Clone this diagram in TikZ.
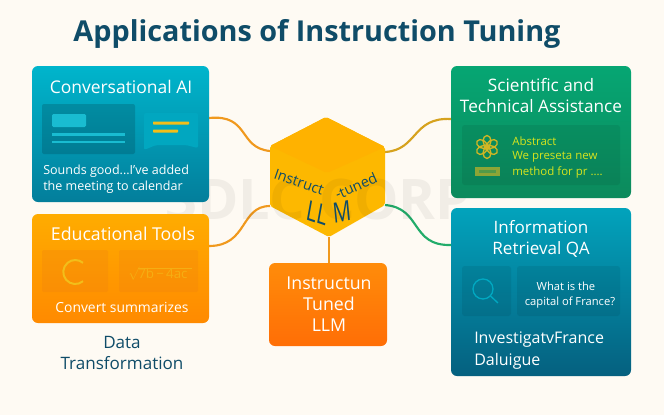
\documentclass[tikz,border=0pt]{standalone}
\usepackage{fontspec}
\setmainfont{Open Sans}
\definecolor{bg}{HTML}{FEFAF3}
\definecolor{navy}{HTML}{0F4C68}
\definecolor{cubeA}{HTML}{FFBB00}
\definecolor{cubeB}{HTML}{FDB800}
\definecolor{wire}{HTML}{F0991E}
\definecolor{wireY}{HTML}{D6A21E}
\definecolor{wireG}{HTML}{22AC6A}
\definecolor{ylw}{HTML}{F2BE1A}
\definecolor{convT}{HTML}{00B5CC}\definecolor{convB}{HTML}{037E9B}
\definecolor{eduT}{HTML}{FFAC00}\definecolor{eduB}{HTML}{FF8A00}
\definecolor{tunT}{HTML}{FF8C0A}\definecolor{tunB}{HTML}{FF6E06}
\definecolor{sciT}{HTML}{06A673}\definecolor{sciB}{HTML}{0C8A5C}
\definecolor{infT}{HTML}{02A3BC}\definecolor{infB}{HTML}{05607F}
\definecolor{lime}{HTML}{D6E41E}
\tikzset{
  x=0.75pt,y=-0.75pt,
  card/.style={rounded corners=4.5pt,inner sep=0,outer sep=0},
  wirel/.style={line width=1.6pt},
  ttl/.style={text=white,font=\fontsize{13.1}{15}\selectfont,inner sep=0,align=center},
  sm/.style={text=white,font=\fontsize{9.4}{12}\selectfont,inner sep=0,anchor=west},
  cubet/.style={text=navy,inner sep=0,font=\fontsize{10.8}{14}\selectfont}
}
\newcommand{\mkcard}[7]{%
  \node[card,top color=#6,bottom color=#7,shading angle=0,
    minimum width={(#4-#2)*0.75pt},minimum height={(#5-#3)*0.75pt},
    rounded corners=4.5pt] (#1) at ({(#2+#4)/2},{(#3+#5)/2}) {};
}
\begin{document}
\begin{tikzpicture}
\useasboundingbox[fill=bg] (0,0) rectangle (664,415);
% title
\node[text=navy,font=\fontsize{21.6}{27}\selectfont\bfseries,inner sep=0] (title) at (317,34) {Applications of Instruction Tuning};

% connectors
\coordinate (cL1) at (270,151);
\coordinate (cL2) at (270,206);
\coordinate (cR1) at (385,152);
\coordinate (cR2) at (385,205);
\coordinate (cB) at (329,237);
\coordinate (cE1) at (209,118);
\coordinate (cE2) at (209,246);
\coordinate (cE3) at (451,119);
\coordinate (cE4) at (451,245);
\draw[wirel,draw=wire] (cE1) .. controls (250,114) and (238,148) .. (cL1);
\draw[wirel,draw=wire] (cE2) .. controls (248,246) and (240,206) .. (cL2);
\draw[wirel,draw=wireY] (cR1) .. controls (418,150) and (412,117) .. (cE3);
\draw[wirel,draw=wireG] (cR2) .. controls (422,208) and (410,246) .. (cE4);

% cube
\fill[cubeB,rounded corners=1.5pt] (326,117) -- (385,147) -- (385,205) -- (329,237) -- (270,206) -- (270,146) -- cycle;
\fill[cubeA!85!orange,rounded corners=1.5pt] (326,117) -- (385,147) -- (327,173) -- (270,146) -- cycle;

% watermark
\node[text=black,opacity=.05,font=\fontsize{42}{44}\selectfont\bfseries,inner sep=0] (wm) at (318,199) {3DLC CORP};

\node[cubet,rotate=-19] (c1) at (299,182) {Instruct};
\node[cubet,rotate=24] (c2) at (356,186) {-tuned};
\node[cubet,font=\fontsize{21}{22}\selectfont,xscale=.72,rotate=-14] (c3) at (317,213) {LL};
\node[cubet,font=\fontsize{21}{22}\selectfont,xscale=.72,rotate=8] (c4) at (342,212) {M};

% cards
\mkcard{conv}{32}{66}{209}{202}{convT}{convB}
\mkcard{edu}{32}{214}{209}{323}{eduT}{eduB}
\mkcard{tun}{269}{263}{387}{346}{tunT}{tunB}
\mkcard{sci}{451}{66}{631}{198}{sciT}{sciB}
\mkcard{inf}{451}{208}{631}{376}{infT}{infB}
\draw[wirel,draw=wire] (cB) -- (329,263);

% conversational
\node[ttl] (t1) at (121,87) {Conversational AI};
\fill[black!60!convB,opacity=.22,rounded corners=1.5pt] (42,104) rectangle (135,154);
\fill[convT!90!white,rounded corners=1pt] (52,114) rectangle (86,127);
\fill[convT!90!white] (52,133) rectangle (125,135.5);
\fill[convT!90!white] (52,140.5) rectangle (125,143);
\fill[convT!75!convB,rounded corners=1.5pt] (144,113) -- (198,113) -- (198,148) -- (186,145) -- (156,145) -- (144,150) -- cycle;
\fill[ylw,rounded corners=.5pt] (153,121.5) rectangle (189,124.5);
\fill[ylw,rounded corners=.5pt] (153,129.5) rectangle (178,132.5);
\node[sm] (t1a) at (43,171) {Sounds good...I've added};
\node[sm] (t1b) at (43,187.5) {the meeting to calendar};

% educational
\node[ttl,font=\fontsize{13.3}{15}\selectfont] (t2) at (123,234) {Educational Tools};
\fill[orange!70!brown,opacity=.25,rounded corners=1pt] (42,250) rectangle (108,292);
\fill[orange!70!brown,opacity=.25,rounded corners=1pt] (119,250) rectangle (198,292);
\draw[ylw,line width=1.5pt] (83,281.2) arc (50:310:12);
\node[text=ylw!75!orange,inner sep=0,font=\fontsize{10}{12}\selectfont] (f) at (158,273) {$\sqrt{\vphantom{b}}$\kern-1pt\rlap{\vrule height 8.2pt depth -7.7pt width 40pt}7b\,−\,4ac};
\node[ttl,font=\fontsize{10.4}{12}\selectfont] (t2a) at (122,307) {Convert summarizes};
\node[text=navy,font=\fontsize{12.8}{15}\selectfont,inner sep=0,align=center] (t2b) at (122,353) {Data\\[1pt]Transformation};

% tuned
\node[ttl,font=\fontsize{13.3}{15.8}\selectfont] (t3) at (329,304) {Instructun\\Tuned\\LLM};

% science
\node[ttl,font=\fontsize{12.9}{15.8}\selectfont] (t4) at (541,95.5) {Scientific and\\Technical Assistance};
\fill[black,opacity=.07,rounded corners=2pt] (462,125) rectangle (620,185);
\foreach \a in {0,60,...,300}{\draw[ylw!85!sciB,line width=1pt,rotate around={\a:(487,147)}] (487,141) ellipse [x radius=4,y radius=5.5];}
\draw[ylw!85!sciB,line width=1pt] (487,147) circle (2.5);
\fill[ylw!70!sciB,opacity=.8] (475,167) rectangle (500,176);
\fill[sciB!70!ylw] (479,170) rectangle (496,173);
\node[sm,text=lime,font=\fontsize{8.6}{11}\selectfont] (t4a) at (512,141) {Abstract};
\node[sm,text=lime,font=\fontsize{8.6}{11}\selectfont] (t4b) at (512,156.5) {We preseta new};
\node[sm,text=lime,font=\fontsize{8.6}{11}\selectfont] (t4c) at (512,172) {method for pr ....};

% information
\node[ttl,font=\fontsize{12.8}{15.8}\selectfont] (t5) at (541,239) {Information\\Retrieval QA};
\fill[black,opacity=.07,rounded corners=2pt] (462,266) rectangle (511,316);
\fill[black,opacity=.07,rounded corners=2pt] (517,266) rectangle (620,316);
\draw[convT!85!infB,line width=1pt] (483,289) circle (10);
\draw[convT!85!infB,line width=1pt] (490.5,296) -- (498,303);
\node[ttl,font=\fontsize{8.4}{11}\selectfont] (t5a) at (566,286) {What is the};
\node[ttl,font=\fontsize{8.4}{11}\selectfont] (t5b) at (570,303) {capital of France?};
\node[sm,font=\fontsize{12}{14}\selectfont] (t5c) at (474,340) {InvestigatvFrance};
\node[sm,font=\fontsize{12}{14}\selectfont] (t5d) at (474,361) {Daluigue};
\end{tikzpicture}
\end{document}
